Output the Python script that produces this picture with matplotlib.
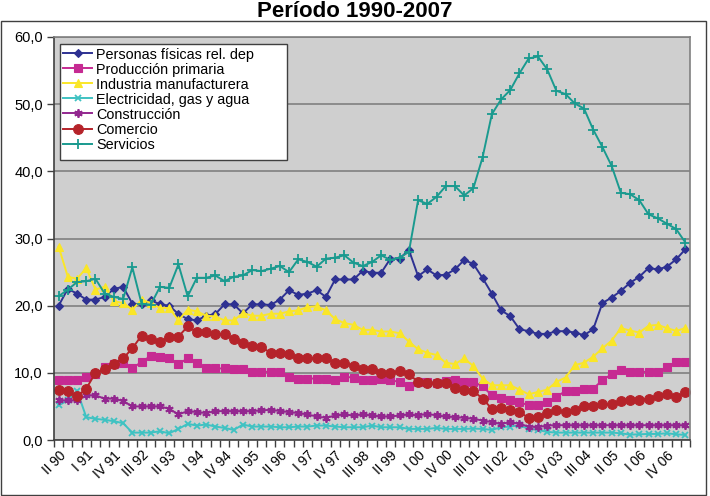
import matplotlib
matplotlib.use("Agg")
import matplotlib.pyplot as plt
import matplotlib.transforms as mtransforms
from matplotlib.patches import Rectangle
from matplotlib.ticker import FuncFormatter, FixedLocator, NullFormatter

plt.rcParams['font.family'] = ['Liberation Sans', 'DejaVu Sans']

# Quarters II 1990 .. II 2007 (69 categories)
n_points = 69
tick_labels = ["II 90", "I 91", "IV 91", "III 92", "II 93", "I 94", "IV 94", "III 95",
               "II 96", "I 97", "IV 97", "III 98", "II 99", "I 00", "IV 00", "III 01",
               "II 02", "I 03", "IV 03", "III 04", "II 05", "I 06", "IV 06"]

personas = [20.0, 22.5, 21.8, 20.9, 20.9, 21.3, 22.5, 22.8, 20.3, 20.2,
            20.8, 20.2, 20.0, 18.75, 18.0, 17.8, 18.5, 18.75, 20.2, 20.2,
            18.85, 20.2, 20.2, 20.1, 20.9, 22.3, 21.6, 21.8, 22.3, 21.3,
            23.9, 23.9, 23.9, 25.2, 24.9, 24.9, 27.0, 27.0, 28.3, 24.4,
            25.4, 24.5, 24.6, 25.4, 26.8, 26.2, 24.1, 21.8, 19.3, 18.45,
            16.5, 16.2, 15.8, 15.8, 16.2, 16.2, 16.0, 15.6, 16.5, 20.4,
            21.2, 22.2, 23.4, 24.3, 25.6, 25.4, 25.8, 26.9, 28.4]

produccion = [9.0, 8.9, 8.9, 9.4, 9.8, 10.8, 11.3, 11.4, 10.65, 11.65,
              12.5, 12.3, 12.15, 11.3, 12.15, 11.4, 10.65, 10.65, 10.65, 10.5,
              10.5, 10.15, 10.15, 10.15, 10.15, 9.4, 9.15, 9.15, 9.15, 9.15,
              9.0, 9.4, 9.3, 8.9, 9.0, 9.15, 8.9, 8.65, 8.0, 8.65,
              8.65, 8.5, 8.8, 8.9, 8.65, 8.65, 8.0, 6.65, 6.3, 6.0,
              5.65, 5.15, 5.15, 5.65, 6.4, 7.3, 7.3, 7.65, 7.65, 8.9,
              9.8, 10.4, 10.15, 10.15, 10.15, 10.15, 10.8, 11.65, 11.65]

industria = [28.8, 24.3, 24.0, 25.6, 22.4, 22.8, 20.65, 20.4, 19.4, 20.9,
             20.4, 19.65, 19.65, 17.8, 19.4, 19.15, 18.5, 18.4, 17.8, 17.8,
             18.9, 18.5, 18.5, 18.8, 18.8, 19.15, 19.3, 19.8, 19.9, 19.3,
             18.0, 17.4, 17.15, 16.4, 16.4, 16.15, 16.15, 15.9, 14.65, 13.5,
             13.0, 12.65, 11.5, 11.3, 12.15, 11.0, 9.15, 8.15, 8.15, 8.15,
             7.5, 6.8, 7.15, 7.5, 8.65, 9.3, 11.15, 11.5, 12.4, 13.65,
             14.8, 16.65, 16.3, 16.0, 17.0, 17.15, 16.65, 16.25, 16.65]

electricidad = [5.15, 5.9, 7.35, 3.4, 3.15, 3.0, 2.8, 2.5, 1.1, 1.1,
                1.1, 1.3, 1.0, 1.65, 2.4, 2.15, 2.3, 2.0, 1.8, 1.5,
                2.3, 2.0, 2.0, 2.0, 1.9, 1.9, 2.0, 2.0, 2.15, 2.15,
                2.0, 1.9, 1.9, 1.9, 2.15, 1.9, 1.9, 1.9, 1.65, 1.65,
                1.65, 1.8, 1.65, 1.65, 1.65, 1.7, 1.65, 1.5, 1.9, 2.0,
                2.2, 1.65, 1.5, 1.2, 1.1, 1.1, 1.1, 1.1, 1.1, 1.1,
                1.1, 1.0, 0.8, 0.85, 0.9, 0.9, 1.0, 0.85, 0.75]

construccion = [5.9, 5.9, 5.9, 6.65, 6.65, 6.15, 6.15, 5.8, 5.0, 5.0,
                5.0, 5.0, 4.65, 3.8, 4.3, 4.15, 4.0, 4.3, 4.3, 4.3,
                4.3, 4.3, 4.4, 4.5, 4.3, 4.15, 4.0, 3.8, 3.5, 3.3,
                3.65, 3.8, 3.65, 3.8, 3.65, 3.5, 3.5, 3.65, 3.8, 3.65,
                3.9, 3.65, 3.5, 3.4, 3.3, 3.15, 2.9, 2.65, 2.4, 2.65,
                2.4, 2.0, 1.9, 2.15, 2.2, 2.2, 2.2, 2.2, 2.2, 2.2,
                2.2, 2.2, 2.2, 2.2, 2.2, 2.2, 2.2, 2.2, 2.2]

comercio = [7.4, 7.3, 6.5, 7.65, 10.0, 10.5, 11.3, 12.15, 13.65, 15.55,
            15.05, 14.55, 15.4, 15.4, 16.9, 16.05, 16.05, 15.8, 15.75, 15.0,
            14.5, 14.05, 13.8, 13.0, 13.0, 12.8, 12.15, 12.15, 12.15, 12.15,
            11.5, 11.5, 11.0, 10.5, 10.5, 10.0, 10.0, 10.3, 9.8, 8.65,
            8.5, 8.5, 8.5, 7.8, 7.4, 7.3, 6.15, 4.65, 4.8, 4.4,
            4.15, 3.3, 3.4, 4.0, 4.4, 4.15, 4.5, 5.0, 5.0, 5.3,
            5.4, 5.8, 6.0, 6.0, 6.15, 6.5, 6.8, 6.4, 7.15]

servicios = [21.4, 22.4, 23.5, 23.65, 24.0, 21.8, 21.3, 21.0, 25.7, 20.3,
             20.15, 22.8, 22.65, 26.15, 21.4, 24.15, 24.15, 24.5, 23.65, 24.3,
             24.5, 25.3, 25.15, 25.5, 25.9, 25.0, 26.9, 26.5, 25.8, 27.0,
             27.15, 27.5, 26.4, 25.9, 26.5, 27.5, 26.8, 27.15, 28.0, 35.7,
             35.15, 36.2, 37.8, 37.8, 36.4, 37.5, 42.1, 48.5, 50.7, 52.1,
             54.6, 56.8, 57.1, 55.2, 52.0, 51.5, 50.1, 49.35, 46.2, 43.6,
             40.8, 36.8, 36.6, 35.7, 33.6, 33.0, 32.2, 31.4, 29.4]

series_names = ["Personas físicas rel. dep", "Producción primaria",
                "Industria manufacturera", "Electricidad, gas y agua",
                "Construcción", "Comercio", "Servicios"]
series_values = [personas, produccion, industria, electricidad,
                 construccion, comercio, servicios]
colors = ["#2E3192", "#C62A92", "#FAE628", "#3FC2C2", "#93278F", "#B5232A", "#1A9A8F"]
markers = ["D", "s", "^", "x", (6, 2, 0), "o", "+"]
msizes = [4.5, 5.5, 6.0, 5.0, 6.0, 7.0, 6.5]

fig = plt.figure(figsize=(7.10, 4.96), dpi=100)
ax = fig.add_axes([54/710, 1-440/496, 636/710, 403/496])
ax.set_facecolor("#CFCFCF")

x = list(range(n_points))
for name, vals, c, m, ms in zip(series_names, series_values, colors, markers, msizes):
    mew = 1.3 if m in ("x", "+") or isinstance(m, tuple) else 0.8
    ax.plot(x, vals, color=c, lw=1.4, marker=m, markersize=ms,
            markerfacecolor=c, markeredgecolor=c, markeredgewidth=mew, label=name)

ax.set_xlim(-0.5, n_points - 0.5)
ax.set_ylim(0, 60)
ax.set_yticks([0, 10, 20, 30, 40, 50, 60])
ax.yaxis.set_major_formatter(FuncFormatter(lambda v, p: f"{v:.1f}".replace(".", ",")))
ax.grid(axis="y", color="#808080", lw=1.2)
ax.set_axisbelow(True)

# category boundaries as tick marks, labels every 3 categories
ax.xaxis.set_minor_locator(FixedLocator([i - 0.5 for i in range(n_points + 1)]))
ax.xaxis.set_minor_formatter(NullFormatter())
ax.set_xticks(list(range(0, n_points, 3))[:len(tick_labels)])
ax.set_xticklabels(tick_labels, rotation=45, ha="right", va="top",
                   rotation_mode="anchor", fontsize=9.8)
shift = mtransforms.ScaledTranslation(-6/100, 0, fig.dpi_scale_trans)
for lbl in ax.get_xticklabels():
    lbl.set_transform(lbl.get_transform() + shift)
ax.tick_params(axis="x", which="major", length=0, pad=6)
ax.tick_params(axis="x", which="minor", length=5, width=1, color="#404040", direction="out")
ax.tick_params(axis="y", length=5, width=1, color="#404040", labelsize=10.5, pad=3)

for side in ["left", "bottom"]:
    ax.spines[side].set_color("#404040")
    ax.spines[side].set_linewidth(1.2)
for side in ["top", "right"]:
    ax.spines[side].set_color("#808080")
    ax.spines[side].set_linewidth(1.2)

# legend box (wider than its content, as in the original)
ax.add_patch(Rectangle((60/710, 1-160/496), 227/710, 116/496, transform=fig.transFigure,
                       facecolor="white", edgecolor="#404040", lw=1.0, zorder=4.5,
                       clip_on=False))
leg = ax.legend(loc="upper left", bbox_to_anchor=(63/710, 1-47.5/496),
                bbox_transform=fig.transFigure, borderaxespad=0,
                fontsize=10.4, frameon=False, labelspacing=0.07,
                handlelength=2.03, handletextpad=0.28, borderpad=0)
leg.set_zorder(5)

fig.text(0.5, 1 - 17/496, "Período 1990-2007", ha="center", va="baseline",
         fontsize=16, fontweight="bold")

fig.patches.append(Rectangle((1/710, 1/496), 705/710, 474/496, transform=fig.transFigure,
                             fill=False, edgecolor="#404040", lw=1.0))

fig.savefig("out.png", dpi=100)
